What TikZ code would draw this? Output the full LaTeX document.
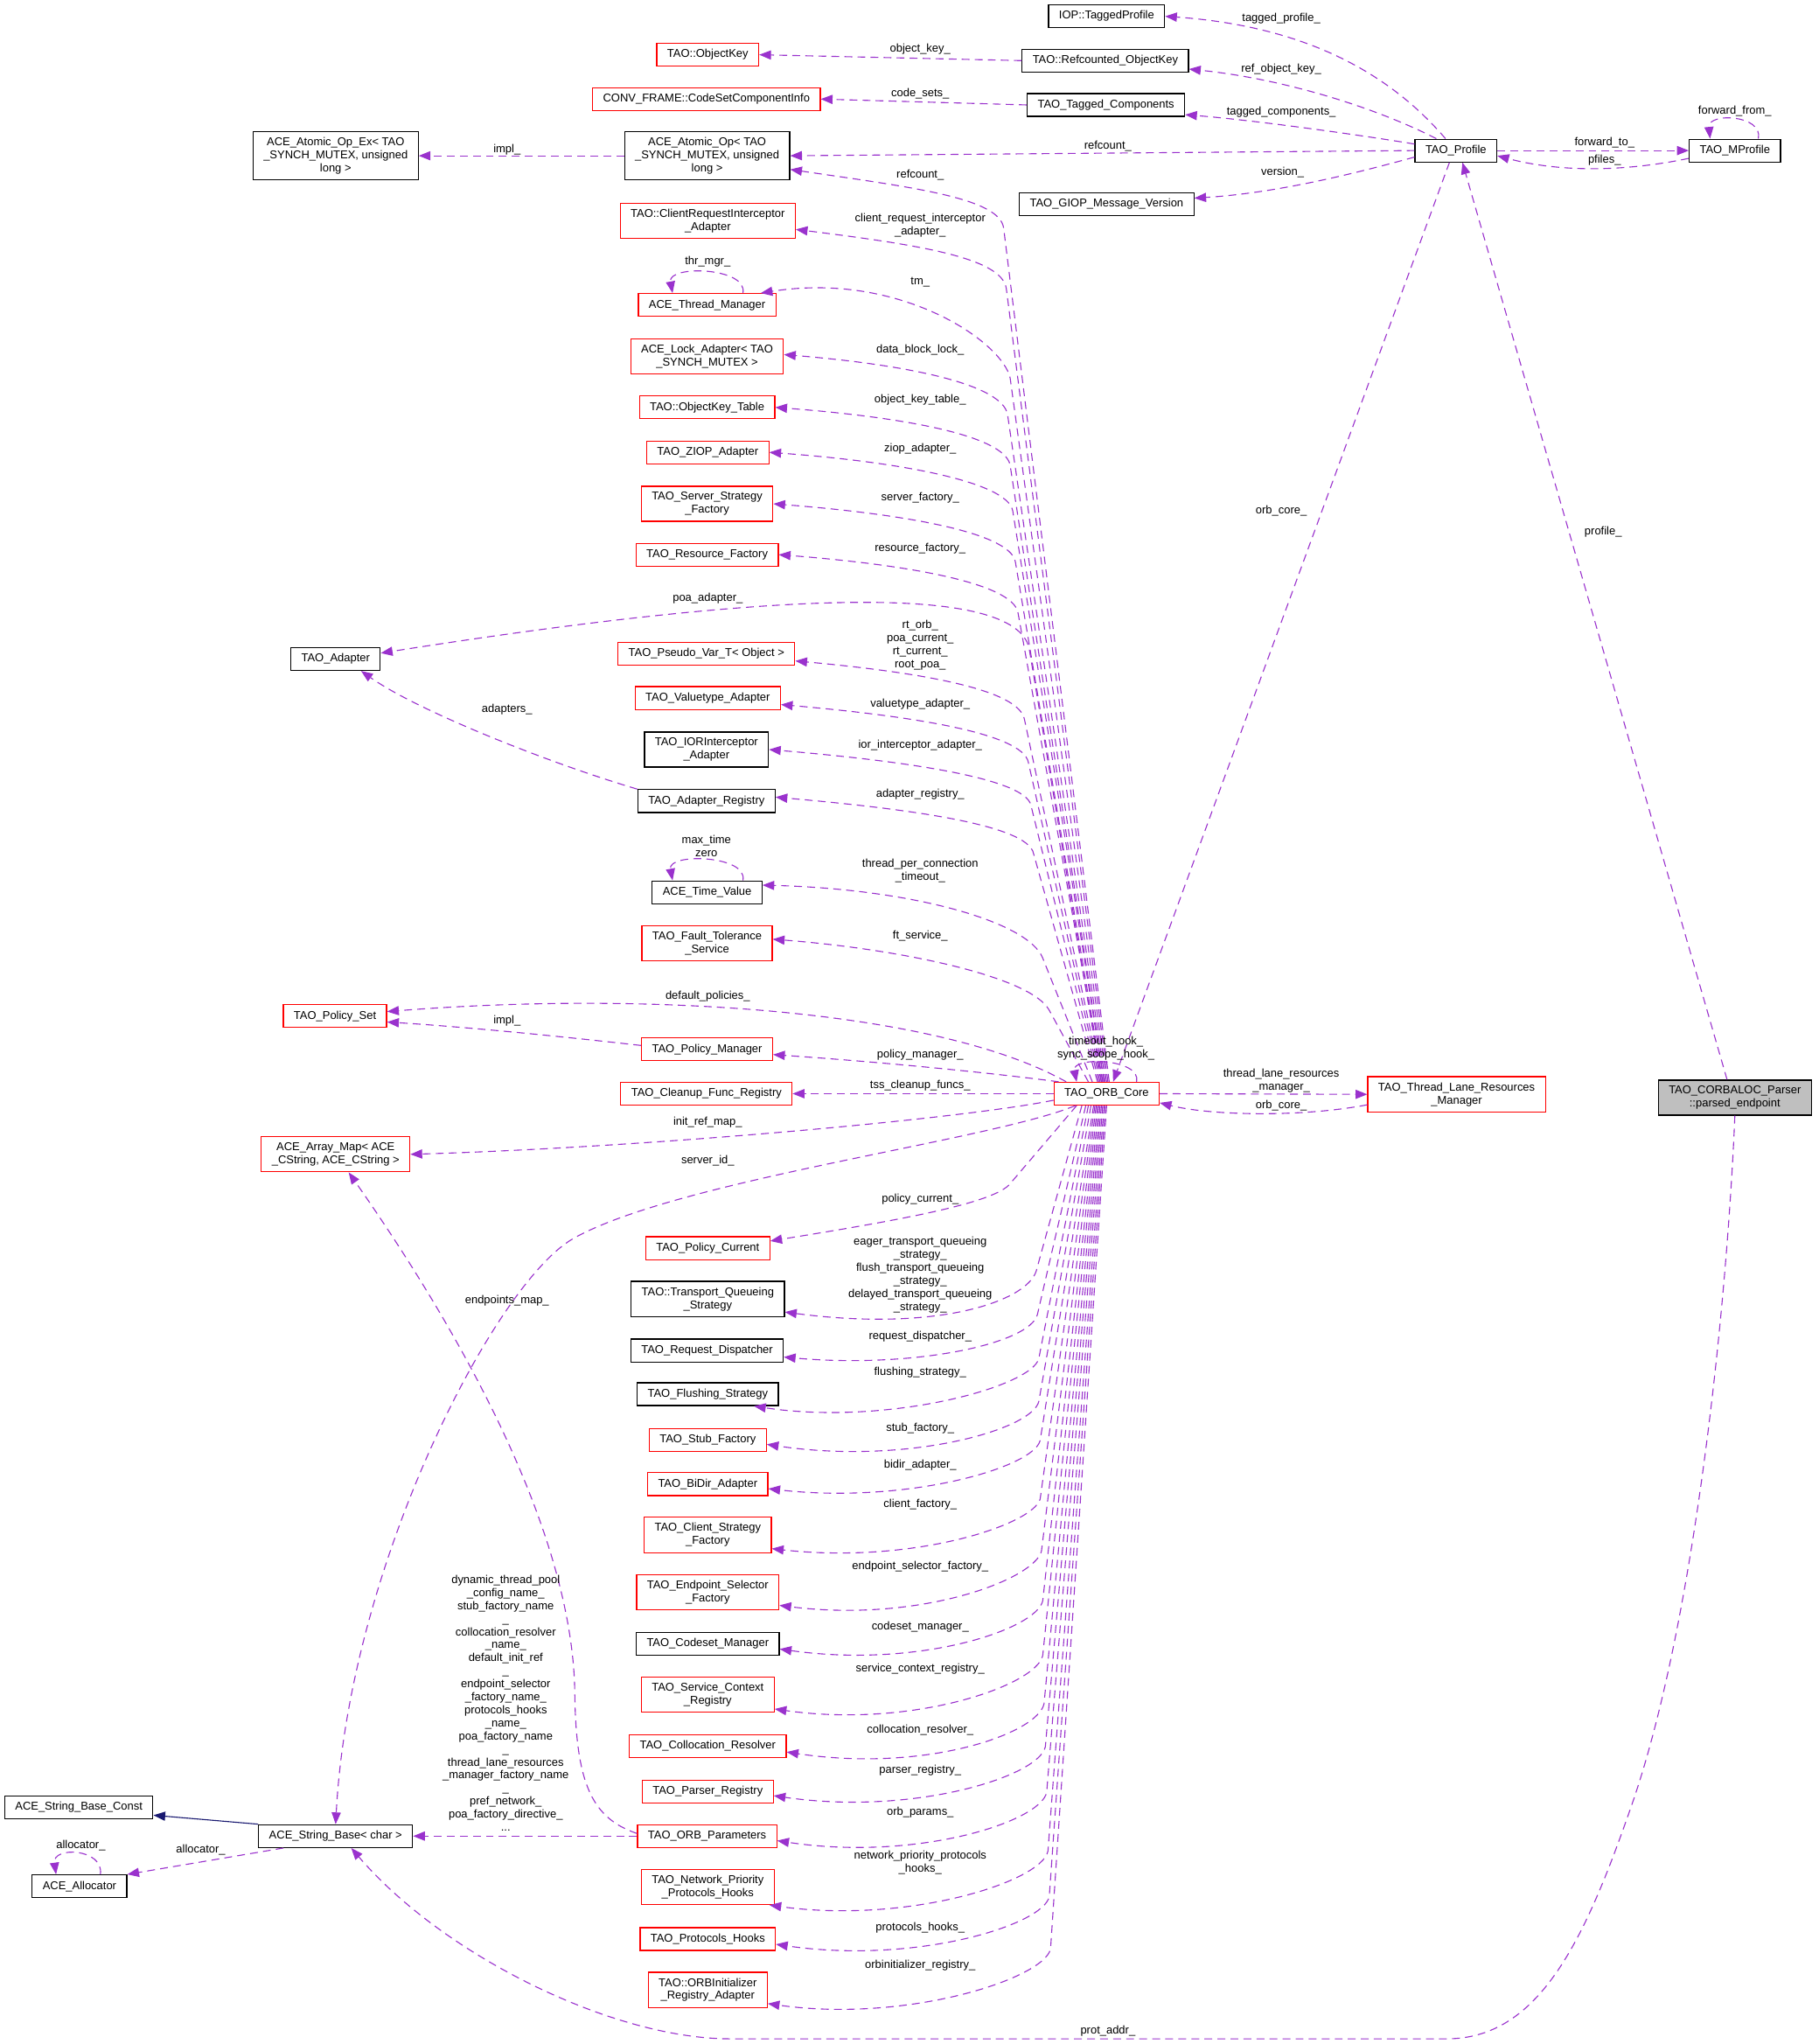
\documentclass[tikz,border=0pt]{standalone}
\usepackage{fontspec}
\setmainfont{Liberation Sans}
\usetikzlibrary{arrows.meta}
\definecolor{orchid}{HTML}{9A32CD}
\definecolor{inhblue}{HTML}{191970}
\tikzset{
  cls/.style={draw=black, line width=0.8pt, fill=white, rectangle, align=center,
    font=\fontsize{8.7}{10}\selectfont, inner xsep=8pt, inner ysep=4.5pt, minimum height=17.5pt},
  clsred/.style={cls, draw=red},
  focus/.style={cls, fill=black!25},
  mbr/.style={draw=orchid, line width=0.75pt, dash pattern=on 6pt off 4pt, -{Triangle[length=9pt,width=7pt]}},
  inh/.style={draw=inhblue, line width=0.75pt, -{Triangle[length=9pt,width=7pt]}},
  lbl/.style={align=center, inner sep=0pt, font=\fontsize{8.7}{10}\selectfont},
}

\begin{document}
\begin{tikzpicture}[x=1pt,y=-1pt]
\useasboundingbox (0,0) rectangle (1395,1568);

\node[cls] (itp) at (849,12.5) {IOP::TaggedProfile};
\node[clsred] (ok) at (543,42) {TAO::ObjectKey};
\node[cls] (rok) at (848,46.5) {TAO::Refcounted\_ObjectKey};
\node[clsred] (csci) at (542,76) {CONV\_FRAME::CodeSetComponentInfo};
\node[cls] (tc) at (848.5,80.5) {TAO\_Tagged\_Components};
\node[cls] (aopx) at (257.5,119.5) {ACE\_Atomic\_Op\_Ex< TAO\\\_SYNCH\_MUTEX, unsigned\\long >};
\node[cls] (aop) at (542.5,119.5) {ACE\_Atomic\_Op< TAO\\\_SYNCH\_MUTEX, unsigned\\long >};
\node[cls] (prof) at (1117,115.5) {TAO\_Profile};
\node[cls] (mprof) at (1331,115.5) {TAO\_MProfile};
\node[cls] (giop) at (849,156.5) {TAO\_GIOP\_Message\_Version};
\node[clsred] (cria) at (543,169.5) {TAO::ClientRequestInterceptor\\\_Adapter};
\node[clsred] (thm) at (542.5,234) {ACE\_Thread\_Manager};
\node[clsred] (lock) at (542.5,273.5) {ACE\_Lock\_Adapter< TAO\\\_SYNCH\_MUTEX >};
\node[clsred] (okt) at (542.5,312.5) {TAO::ObjectKey\_Table};
\node[clsred] (ziop) at (543,347) {TAO\_ZIOP\_Adapter};
\node[clsred] (ssf) at (542.5,386.5) {TAO\_Server\_Strategy\\\_Factory};
\node[clsred] (rf) at (542.5,425.5) {TAO\_Resource\_Factory};
\node[cls] (tad) at (257.5,505.5) {TAO\_Adapter};
\node[clsred] (pvt) at (542,501.5) {TAO\_Pseudo\_Var\_T< Object >};
\node[clsred] (vta) at (543,535.5) {TAO\_Valuetype\_Adapter};
\node[cls] (iora) at (542,575) {TAO\_IORInterceptor\\\_Adapter};
\node[cls] (areg) at (542,614.5) {TAO\_Adapter\_Registry};
\node[cls] (tv) at (542.5,684.5) {ACE\_Time\_Value};
\node[clsred] (fts) at (542.5,723.5) {TAO\_Fault\_Tolerance\\\_Service};
\node[clsred] (ps) at (257,779.5) {TAO\_Policy\_Set};
\node[clsred] (pm) at (542.5,805) {TAO\_Policy\_Manager};
\node[clsred] (cfr) at (542,839) {TAO\_Cleanup\_Func\_Registry};
\node[clsred] (orb) at (849,839) {TAO\_ORB\_Core};
\node[clsred] (tlrm) at (1117.5,839.5) {TAO\_Thread\_Lane\_Resources\\\_Manager};
\node[focus] (pe) at (1331,842) {TAO\_CORBALOC\_Parser\\::parsed\_endpoint};
\node[clsred] (am) at (257.5,885.5) {ACE\_Array\_Map< ACE\\\_CString, ACE\_CString >};
\node[clsred] (pcur) at (543,957.5) {TAO\_Policy\_Current};
\node[cls] (tqs) at (543,996.5) {TAO::Transport\_Queueing\\\_Strategy};
\node[cls] (rd) at (542.5,1036) {TAO\_Request\_Dispatcher};
\node[cls] (fs) at (543,1069.5) {TAO\_Flushing\_Strategy};
\node[clsred] (sf) at (543,1104.5) {TAO\_Stub\_Factory};
\node[clsred] (bidir) at (543,1138.5) {TAO\_BiDir\_Adapter};
\node[clsred] (csf) at (543,1177.5) {TAO\_Client\_Strategy\\\_Factory};
\node[clsred] (esf) at (543,1221.5) {TAO\_Endpoint\_Selector\\\_Factory};
\node[cls] (csm) at (543,1261) {TAO\_Codeset\_Manager};
\node[clsred] (scr) at (543,1300) {TAO\_Service\_Context\\\_Registry};
\node[clsred] (cr) at (543,1339.5) {TAO\_Collocation\_Resolver};
\node[clsred] (preg) at (543,1374.5) {TAO\_Parser\_Registry};
\node[cls] (sbc) at (60.5,1386.5) {ACE\_String\_Base\_Const};
\node[cls] (sb) at (257.5,1408.5) {ACE\_String\_Base< char >};
\node[clsred] (op) at (542.5,1408.5) {TAO\_ORB\_Parameters};
\node[cls] (alloc) at (61,1447) {ACE\_Allocator};
\node[clsred] (nph) at (543,1447.5) {TAO\_Network\_Priority\\\_Protocols\_Hooks};
\node[clsred] (ph) at (543,1487.5) {TAO\_Protocols\_Hooks};
\node[clsred] (oira) at (543,1526.5) {TAO::ORBInitializer\\\_Registry\_Adapter};

% TAO_Profile and its neighbours
\draw[mbr] ([xshift=-8pt]prof.north) .. controls (1065,55) and (1000,20) .. (itp.east);
\draw[mbr] ([xshift=-15pt]prof.north) .. controls (1050,80) and (980,60) .. ([yshift=-6.5pt]rok.east);
\draw[mbr] ([yshift=5pt]prof.west) .. controls (1040,103) and (960,92) .. ([yshift=-7.5pt]tc.east);
\draw[mbr] (prof.west) -- (aop.east);
\draw[mbr] ([yshift=-5pt]prof.west) .. controls (1040,133) and (980,148) .. ([yshift=4.5pt]giop.east);
\draw[mbr] (prof.east) -- (mprof.west);
\draw[mbr] ([yshift=-6pt]mprof.west) .. controls (1250,131) and (1200,133) .. ([yshift=-4pt]prof.east);
\draw[mbr] ([xshift=18pt]mprof.north) .. controls (1353,88) and (1310,86) .. ([xshift=-19pt]mprof.north);
\draw[mbr] (rok.west) -- (ok.east);
\draw[mbr] (tc.west) -- (csci.east);
\draw[mbr] (aop.west) -- (aopx.east);
\draw[mbr] ([xshift=-5pt]prof.south) -- ([xshift=5pt]orb.north);
\draw[mbr] ([xshift=-6pt]pe.north) -- ([xshift=5pt]prof.south);
\draw[mbr] (pe.south) .. controls (1325,1000) and (1300,1250) .. (1250,1390)
  .. controls (1215,1490) and (1180,1564) .. (1110,1564) -- (560,1564)
  .. controls (470,1564) and (340,1500) .. ([xshift=12pt]sb.south);

% TAO_ORB_Core, upper members
\draw[mbr] (orb.east) -- (tlrm.west);
\draw[mbr] ([yshift=-8pt]tlrm.west) .. controls (1000,857) and (930,856) .. ([yshift=-7pt]orb.east);
\draw[mbr] ([xshift=23pt]orb.north) .. controls (876,812) and (822,810) .. ([xshift=-23pt]orb.north);
\draw[mbr] ([xshift=2pt]orb.north) -- (770,175) .. controls (767,152) and (702,144) .. ([yshift=-10.5pt]aop.east);
\draw[mbr] ([xshift=1pt]orb.north) -- (772,221) .. controls (768,198) and (707,188) .. ([yshift=-6.5pt]cria.east);
\draw[mbr] (orb.north) -- (775,290) .. controls (769,262) and (690,208) .. ([xshift=-12pt]thm.north east);
\draw[mbr] ([xshift=27.5pt]thm.north) .. controls (574,205) and (512,203) .. ([xshift=-26.5pt]thm.north);
\draw[mbr] ([xshift=-1pt]orb.north) -- (773,318) .. controls (769,295) and (698,280) .. ([yshift=1.5pt]lock.east);
\draw[mbr] ([xshift=-2pt]orb.north) -- (775,357) .. controls (771,334) and (693,320) .. (okt.east);
\draw[mbr] ([xshift=-2pt]orb.north) -- (777,392) .. controls (773,369) and (686,354) .. (ziop.east);
\draw[mbr] ([xshift=-3pt]orb.north) -- (779,431) .. controls (775,408) and (690,394) .. (ssf.east);
\draw[mbr] ([xshift=-3pt]orb.north) -- (781,470) .. controls (777,447) and (694,433) .. (rf.east);
\draw[mbr] ([xshift=-4pt]orb.north) -- (790,500) .. controls (786,460) and (680,440) .. ([yshift=4.5pt]tad.east);
\draw[mbr] ([xshift=-4pt]orb.north) -- (786,552) .. controls (782,529) and (708,516) .. ([yshift=-5.5pt]pvt.east);
\draw[mbr] ([xshift=-5pt]orb.north) -- (789,585) .. controls (785,562) and (696,549) .. ([yshift=-5pt]vta.east);
\draw[mbr] ([xshift=-6pt]orb.north) -- (791,618) .. controls (787,596) and (685,583) .. (iora.east);
\draw[mbr] ([xshift=-7pt]orb.north) -- (793,655) .. controls (789,632) and (691,620) .. ([yshift=3pt]areg.east);
\draw[mbr] (areg.north west) .. controls (420,585) and (320,545) .. ([xshift=19.5pt]tad.south);
\draw[mbr] ([xshift=-11pt]orb.north) -- (800,735) .. controls (789,707) and (700,682) .. ([yshift=5.5pt]tv.east);
\draw[mbr] ([xshift=27.5pt]tv.north) .. controls (574,656) and (512,654) .. ([xshift=-26.5pt]tv.north);
\draw[mbr] ([xshift=-14pt]orb.north) -- (805,775) .. controls (791,749) and (690,728) .. ([yshift=3pt]fts.east);
\draw[mbr] ([xshift=-31pt]orb.north) .. controls (720,775) and (500,760) .. ([yshift=3.5pt]ps.east);
\draw[mbr] ([yshift=3pt]pm.west) .. controls (430,795) and (360,788) .. ([yshift=-4.5pt]ps.east);
\draw[mbr] ([xshift=4pt]orb.north west) .. controls (760,823) and (680,815) .. ([yshift=-4pt]pm.east);
\draw[mbr] (orb.west) -- (cfr.east);
\draw[mbr] ([yshift=-5pt]orb.west) .. controls (740,858) and (500,880) .. (am.east);
\draw[mbr] ([xshift=-24pt]orb.south) .. controls (760,875) and (520,905) .. (440,950)
  .. controls (380,984) and (268,1200) .. (sb.north);

% TAO_ORB_Core, lower members
\draw[mbr] ([xshift=-23pt]orb.south) -- (775,908) .. controls (763,923) and (690,936) .. ([yshift=5.5pt]pcur.east);
\draw[mbr] ([xshift=-19pt]orb.south) -- (795,975) .. controls (788,998) and (720,1022) .. ([yshift=-10pt]tqs.east);
\draw[mbr] ([xshift=-16pt]orb.south) -- (796,1008) .. controls (791,1031) and (700,1050) .. ([yshift=-5pt]rd.east);
\draw[mbr] ([xshift=-14pt]orb.south) -- (797,1042) .. controls (792,1064) and (680,1094) .. ([xshift=-19pt]fs.south east);
\draw[mbr] ([xshift=-12pt]orb.south) -- (797,1075) .. controls (792,1097) and (695,1124) .. ([yshift=-3.5pt]sf.east);
\draw[mbr] ([xshift=-10pt]orb.south) -- (798,1105) .. controls (793,1126) and (695,1154) .. ([yshift=-3.5pt]bidir.east);
\draw[mbr] ([xshift=-9pt]orb.south) -- (798,1150) .. controls (792,1170) and (700,1200) .. ([yshift=-10.5pt]csf.east);
\draw[mbr] ([xshift=-8pt]orb.south) -- (799,1190) .. controls (793,1212) and (705,1245) .. ([yshift=-10pt]esf.east);
\draw[mbr] ([xshift=-7pt]orb.south) -- (800,1228) .. controls (795,1250) and (705,1280) .. ([yshift=-4pt]csm.east);
\draw[mbr] ([xshift=-6pt]orb.south) -- (800,1270) .. controls (795,1293) and (700,1326) .. ([yshift=-11pt]scr.east);
\draw[mbr] ([xshift=-5pt]orb.south) -- (801,1307) .. controls (796,1330) and (710,1360) .. ([yshift=-4.5pt]cr.east);
\draw[mbr] ([xshift=-4pt]orb.south) -- (802,1340) .. controls (797,1363) and (700,1393) .. ([yshift=-3pt]preg.east);
\draw[mbr] ([xshift=-3pt]orb.south) -- (803,1375) .. controls (798,1398) and (702,1428) .. ([yshift=-3.5pt]op.east);
\draw[mbr] ([xshift=-2pt]orb.south) -- (804,1420) .. controls (799,1444) and (695,1476) .. ([xshift=-4pt]nph.south east);
\draw[mbr] ([xshift=-1pt]orb.south) -- (805,1455) .. controls (800,1477) and (702,1507) .. ([yshift=-4pt]ph.east);
\draw[mbr] (orb.south) -- (806,1495) .. controls (801,1518) and (695,1552) .. ([yshift=-10.5pt]oira.east);

% strings
\draw[mbr] ([yshift=2pt]op.west) .. controls (455,1395) and (442,1370) .. (441,1300)
  .. controls (440,1170) and (345,1010) .. ([xshift=10pt]am.south);
\draw[mbr] (op.west) -- (sb.east);
\draw[inh] (sb.north west) -- ([yshift=-6pt]sbc.east);
\draw[mbr] ([xshift=-40pt]sb.south) -- (alloc.north east);
\draw[mbr] ([xshift=16pt]alloc.north) .. controls (80,1418) and (40,1416) .. ([xshift=-18pt]alloc.north);

% labels
\node[lbl] (ltp) at (983,14) {tagged\_profile\_};
\node[lbl] (lrok) at (983,53) {ref\_object\_key\_};
\node[lbl] (ltc) at (983,86) {tagged\_components\_};
\node[lbl] (lrc1) at (850,112) {refcount\_};
\node[lbl] (lver) at (984,132) {version\_};
\node[lbl] (lft) at (1231,109.5) {forward\_to\_};
\node[lbl] (lpf) at (1231,123) {pfiles\_};
\node[lbl] (lff) at (1331,85) {forward\_from\_};
\node[lbl] (lok) at (706,38) {object\_key\_};
\node[lbl] (lcs) at (706,72) {code\_sets\_};
\node[lbl] (limpl1) at (389,114.5) {impl\_};
\node[lbl] (lorb1) at (983,392) {orb\_core\_};
\node[lbl] (lprof) at (1230,408) {profile\_};
\node[lbl] (lrc2) at (706,134) {refcount\_};
\node[lbl] (lcria) at (706,173) {client\_request\_interceptor\\\_adapter\_};
\node[lbl] (ltm) at (706,216.5) {tm\_};
\node[lbl] (lthr) at (543,201) {thr\_mgr\_};
\node[lbl] (ldbl) at (706,268.5) {data\_block\_lock\_};
\node[lbl] (lokt) at (706,307) {object\_key\_table\_};
\node[lbl] (lziop) at (706,344) {ziop\_adapter\_};
\node[lbl] (lssf) at (706,382) {server\_factory\_};
\node[lbl] (lrf) at (706,421) {resource\_factory\_};
\node[lbl] (lpoa) at (543,459) {poa\_adapter\_};
\node[lbl] (lrt) at (706,495) {rt\_orb\_\\poa\_current\_\\rt\_current\_\\root\_poa\_};
\node[lbl] (lvta) at (706,540) {valuetype\_adapter\_};
\node[lbl] (lior) at (706,572) {ior\_interceptor\_adapter\_};
\node[lbl] (lar) at (706,609) {adapter\_registry\_};
\node[lbl] (lad) at (389,544) {adapters\_};
\node[lbl] (ltv) at (542,649) {max\_time\\zero};
\node[lbl] (ltpc) at (706,668) {thread\_per\_connection\\\_timeout\_};
\node[lbl] (lfts) at (706,718) {ft\_service\_};
\node[lbl] (ldp) at (543,764) {default\_policies\_};
\node[lbl] (limpl2) at (389,783) {impl\_};
\node[lbl] (lpm) at (706,809) {policy\_manager\_};
\node[lbl] (lhook) at (848.5,804) {timeout\_hook\_\\sync\_scope\_hook\_};
\node[lbl] (ltss) at (706,833) {tss\_cleanup\_funcs\_};
\node[lbl] (ltlrm) at (983,829) {thread\_lane\_resources\\\_manager\_};
\node[lbl] (lorb2) at (983,848) {orb\_core\_};
\node[lbl] (lirm) at (543,861) {init\_ref\_map\_};
\node[lbl] (lsid) at (543,890.5) {server\_id\_};
\node[lbl] (lpc) at (706,920) {policy\_current\_};
\node[lbl] (ltq) at (706,978) {eager\_transport\_queueing\\\_strategy\_\\flush\_transport\_queueing\\\_strategy\_\\delayed\_transport\_queueing\\\_strategy\_};
\node[lbl] (lrd) at (706,1025.5) {request\_dispatcher\_};
\node[lbl] (lfs) at (706,1053) {flushing\_strategy\_};
\node[lbl] (lsf) at (706,1096) {stub\_factory\_};
\node[lbl] (lbd) at (706,1124) {bidir\_adapter\_};
\node[lbl] (lcf) at (706,1154) {client\_factory\_};
\node[lbl] (lesf) at (706,1202) {endpoint\_selector\_factory\_};
\node[lbl] (lcsm) at (706,1248) {codeset\_manager\_};
\node[lbl] (lscr) at (706,1280) {service\_context\_registry\_};
\node[lbl] (lcr) at (706,1327) {collocation\_resolver\_};
\node[lbl] (lpr) at (706,1358) {parser\_registry\_};
\node[lbl] (lop) at (706,1390) {orb\_params\_};
\node[lbl] (lnph) at (706,1429) {network\_priority\_protocols\\\_hooks\_};
\node[lbl] (lph) at (706,1479) {protocols\_hooks\_};
\node[lbl] (loira) at (706,1508) {orbinitializer\_registry\_};
\node[lbl] (lem) at (389,998) {endpoints\_map\_};
\node[lbl] (lsb) at (388,1306.5) {dynamic\_thread\_pool\\\_config\_name\_\\stub\_factory\_name\\\_\\collocation\_resolver\\\_name\_\\default\_init\_ref\\\_\\endpoint\_selector\\\_factory\_name\_\\protocols\_hooks\\\_name\_\\poa\_factory\_name\\\_\\thread\_lane\_resources\\\_manager\_factory\_name\\\_\\pref\_network\_\\poa\_factory\_directive\_\\...};
\node[lbl] (lal1) at (154,1419) {allocator\_};
\node[lbl] (lal2) at (62,1416) {allocator\_};
\node[lbl] (lpa) at (850,1558) {prot\_addr\_};
\end{tikzpicture}
\end{document}
